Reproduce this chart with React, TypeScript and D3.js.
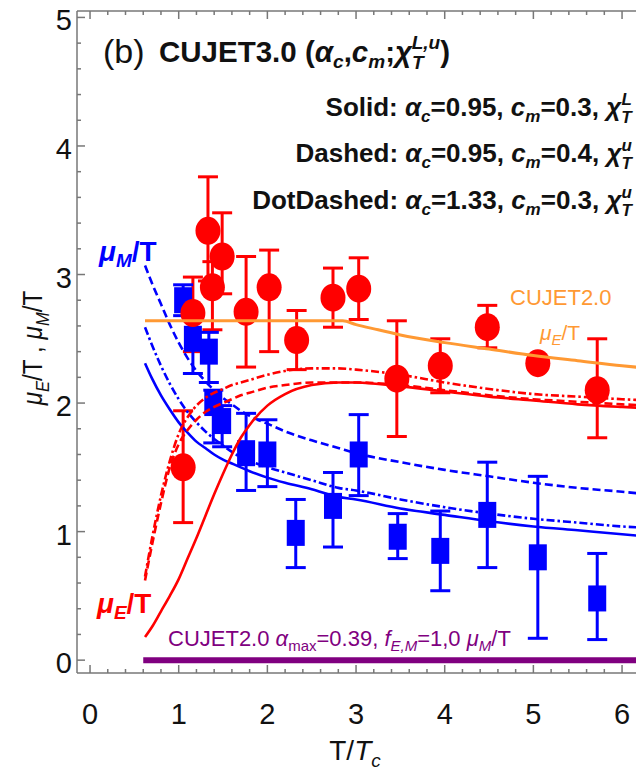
import React from 'react';
import * as d3 from 'd3';

// ---------- data ----------
const redT = [1.05, 1.16, 1.33, 1.38, 1.49, 1.76, 2.02, 2.33, 2.74, 3.03, 3.46, 3.95, 4.48, 5.05, 5.72];
const redV = [1.50, 2.70, 3.34, 2.90, 3.14, 2.71, 2.90, 2.49, 2.82, 2.89, 2.19, 2.29, 2.59, 2.31, 2.10];
const redLo = [1.07, 2.40, 2.95, 2.57, 2.85, 2.28, 2.40, 2.26, 2.59, 2.65, 1.74, 2.08, 2.43, 2.26, 1.73];
const redHi = [1.94, 2.98, 3.76, 3.10, 3.48, 3.14, 3.19, 2.72, 3.05, 3.13, 2.64, 2.50, 2.76, 2.36, 2.50];

const blueT = [1.05, 1.16, 1.34, 1.39, 1.49, 1.76, 2.00, 2.32, 2.74, 3.03, 3.47, 3.95, 4.48, 5.05, 5.72];
const blueV = [2.80, 2.50, 2.40, 2.00, 1.86, 1.61, 1.60, 0.99, 1.20, 1.60, 0.96, 0.85, 1.13, 0.80, 0.48];
const blueLo = [2.68, 2.23, 2.16, 1.69, 1.66, 1.32, 1.35, 0.72, 0.88, 1.28, 0.79, 0.54, 0.72, 0.17, 0.16];
const blueHi = [2.92, 2.65, 2.55, 2.10, 1.98, 1.92, 1.87, 1.25, 1.46, 1.91, 1.14, 1.16, 1.54, 1.43, 0.83];

const gridT = [0.62, 0.7, 0.8, 0.9, 1.0, 1.1, 1.2, 1.3, 1.4, 1.5, 1.6, 1.7, 1.8, 2.0, 2.2, 2.5, 2.8, 3.0, 3.5, 4.0, 4.5, 5.0, 5.5, 6.0, 6.3];
const redSolid = [0.18, 0.26, 0.38, 0.50, 0.63, 0.79, 0.95, 1.12, 1.29, 1.45, 1.60, 1.73, 1.83, 1.98, 2.07, 2.14, 2.16, 2.16, 2.13, 2.09, 2.05, 2.02, 1.99, 1.97, 1.96];
const redDashed = [0.62, 0.90, 1.22, 1.50, 1.68, 1.79, 1.87, 1.93, 1.97, 2.00, 2.03, 2.06, 2.08, 2.12, 2.14, 2.16, 2.16, 2.16, 2.14, 2.10, 2.06, 2.03, 2.01, 1.99, 1.98];
const redDotDashed = [0.65, 0.95, 1.28, 1.55, 1.76, 1.89, 1.98, 2.04, 2.08, 2.11, 2.14, 2.16, 2.18, 2.22, 2.25, 2.27, 2.27, 2.26, 2.22, 2.16, 2.11, 2.07, 2.05, 2.03, 2.02];
const blueSolid = [2.31, 2.19, 2.06, 1.95, 1.85, 1.77, 1.70, 1.65, 1.60, 1.56, 1.53, 1.50, 1.47, 1.42, 1.38, 1.33, 1.27, 1.25, 1.18, 1.13, 1.08, 1.04, 1.01, 0.98, 0.96];
const blueDashed = [3.07, 2.93, 2.77, 2.61, 2.47, 2.35, 2.25, 2.17, 2.10, 2.04, 1.99, 1.94, 1.90, 1.84, 1.78, 1.71, 1.65, 1.61, 1.54, 1.48, 1.43, 1.38, 1.34, 1.31, 1.29];
const blueDotDashed = [2.59, 2.45, 2.29, 2.15, 2.03, 1.93, 1.85, 1.78, 1.72, 1.67, 1.62, 1.58, 1.55, 1.50, 1.46, 1.40, 1.34, 1.32, 1.25, 1.19, 1.14, 1.10, 1.07, 1.04, 1.03];

const orangeT = [0.62, 2.85, 3.0, 3.25, 3.5, 4.0, 4.5, 5.0, 5.5, 6.0, 6.3];
const orangeV = [2.64, 2.64, 2.61, 2.57, 2.53, 2.47, 2.42, 2.37, 2.33, 2.29, 2.27];
const purpleT = [0.6, 6.3];
const purpleV = [0, 0];

const xTicks = [0, 1, 2, 3, 4, 5, 6];
const yTicks = [0, 1, 2, 3, 4, 5];

// ---------- layout ----------
const W = 636, H = 775;
const X0 = -0.147, X1 = 6.5;
const x = d3.scaleLinear().domain([X0, X1]).range([77, 77 + (X1 - X0) * 88.67]);
const y = d3.scaleLinear().domain([-0.1, 5.05]).range([673, 11]);

const RED = '#ff0000', BLUE = '#0000ff', ORANGE = '#ff9933', PURPLE = '#800080', AX = '#777777';
const FONT = '"Liberation Sans", Arial, sans-serif';

const line = d3.line<[number, number]>().x(d => x(d[0])).y(d => y(d[1])).curve(d3.curveMonotoneX);
const mk = (ts: number[], vs: number[]) => line(ts.map((t, i) => [t, vs[i]] as [number, number])) || '';

const DASH = '8,4';
const DOTDASH = '8,3,2.5,3';

export default function App() {
  const minorX = d3.range(0, 65).map(i => i * 0.2).filter(v => v <= X1 && Math.abs(v - Math.round(v)) > 1e-6);
  const minorY = d3.range(0, 26).map(i => i * 0.2).filter(v => v <= 5.05 && Math.abs(v - Math.round(v)) > 1e-6);
  const xr = x.range()[1];
  return (
    <svg width={W} height={H} style={{ position: 'absolute', left: 0, top: 0, background: '#fff' }} fontFamily={FONT}>
      <rect x={0} y={0} width={W} height={H} fill="#fff" />
      {/* frame */}
      <g stroke={AX} strokeWidth={1.5} fill="none">
        <line x1={77} x2={xr} y1={673} y2={673} />
        <line x1={77} x2={xr} y1={11} y2={11} />
        <line x1={77} x2={77} y1={11} y2={673} />
        {xTicks.map(t => (
          <g key={'xt' + t}>
            <line x1={x(t)} x2={x(t)} y1={673} y2={665} />
            <line x1={x(t)} x2={x(t)} y1={11} y2={19} />
          </g>
        ))}
        {minorX.map((t, i) => (
          <g key={'xm' + i}>
            <line x1={x(t)} x2={x(t)} y1={673} y2={669} />
            <line x1={x(t)} x2={x(t)} y1={11} y2={15} />
          </g>
        ))}
        {yTicks.map(t => <line key={'yt' + t} x1={77} x2={85} y1={y(t)} y2={y(t)} />)}
        {minorY.map((t, i) => <line key={'ym' + i} x1={77} x2={81} y1={y(t)} y2={y(t)} />)}
      </g>
      {/* tick labels */}
      <g fontSize={29} fill="#111">
        {xTicks.map(t => <text key={'xl' + t} x={x(t)} y={724} textAnchor="middle">{t}</text>)}
        {yTicks.map(t => <text key={'yl' + t} x={72} y={y(t) + 13} textAnchor="end">{t}</text>)}
      </g>
      {/* axis labels */}
      <text x={355} y={760} fontSize={28} textAnchor="middle" fill="#111">
        T/<tspan fontStyle="italic">T</tspan><tspan fontStyle="italic" fontSize={19} dy={7}>c</tspan>
      </text>
      <text transform="translate(42,348) rotate(-90) scale(0.87,1)" fontSize={28} textAnchor="middle" fill="#111">
        <tspan fontStyle="italic">μ</tspan><tspan fontStyle="italic" fontSize={19} dy={7}>E</tspan><tspan dy={-7}>/T , </tspan>
        <tspan fontStyle="italic">μ</tspan><tspan fontStyle="italic" fontSize={19} dy={7}>M</tspan><tspan dy={-7}>/T</tspan>
      </text>

      {/* data: error bars + markers */}
      <g stroke={RED} strokeWidth={3}>
        {redT.map((t, i) => (
          <g key={'re' + i}>
            <line x1={x(t)} x2={x(t)} y1={y(redLo[i])} y2={y(redHi[i])} />
            <line x1={x(t) - 10} x2={x(t) + 10} y1={y(redLo[i])} y2={y(redLo[i])} />
            <line x1={x(t) - 10} x2={x(t) + 10} y1={y(redHi[i])} y2={y(redHi[i])} />
          </g>
        ))}
      </g>
      <g stroke={BLUE} strokeWidth={3}>
        {blueT.map((t, i) => (
          <g key={'be' + i}>
            <line x1={x(t)} x2={x(t)} y1={y(blueLo[i])} y2={y(blueHi[i])} />
            <line x1={x(t) - 10} x2={x(t) + 10} y1={y(blueLo[i])} y2={y(blueLo[i])} />
            <line x1={x(t) - 10} x2={x(t) + 10} y1={y(blueHi[i])} y2={y(blueHi[i])} />
          </g>
        ))}
      </g>
      {blueT.map((t, i) => <rect key={'bs' + i} x={x(t) - 9} y={y(blueV[i]) - 13} width={18} height={26} fill={BLUE} />)}
      {redT.map((t, i) => <ellipse key={'rc' + i} cx={x(t)} cy={y(redV[i])} rx={12.5} ry={14} fill={RED} />)}

      {/* curves */}
      <g fill="none" strokeWidth={2.6}>
        <path d={mk(gridT, blueSolid)} stroke={BLUE} />
        <path d={mk(gridT, blueDashed)} stroke={BLUE} strokeDasharray={DASH} />
        <path d={mk(gridT, blueDotDashed)} stroke={BLUE} strokeDasharray={DOTDASH} />
        <path d={mk(gridT, redSolid)} stroke={RED} />
        <path d={mk(gridT, redDashed)} stroke={RED} strokeDasharray={DASH} />
        <path d={mk(gridT, redDotDashed)} stroke={RED} strokeDasharray={DOTDASH} />
        <path d={mk(orangeT, orangeV)} stroke={ORANGE} strokeWidth={3} />
        <path d={mk(purpleT, purpleV)} stroke={PURPLE} strokeWidth={6} />
      </g>

      {/* title */}
      <text x={103} y={63} fontSize={34} fill="#111">(b)</text>
      <text x={159} y={62} fontSize={29.5} fontWeight="bold" fill="#111">
        CUJET3.0 (<tspan fontStyle="italic">α</tspan><tspan fontStyle="italic" fontSize={19} dy={6}>c</tspan><tspan dy={-6}>,</tspan><tspan fontStyle="italic">c</tspan><tspan fontStyle="italic" fontSize={19} dy={6}>m</tspan><tspan dy={-6}>;</tspan><tspan fontStyle="italic">χ</tspan><tspan fontStyle="italic" fontSize={19} dy={7}>T</tspan><tspan fontStyle="italic" fontSize={19} dx={-12} dy={-20}>L,u</tspan><tspan dy={13}>)</tspan>
      </text>

      {/* legend lines */}
      <g fontSize={26} fontWeight="bold" fill="#111" textAnchor="end">
        <text x={632} y={116}>
          Solid: <tspan fontStyle="italic">α</tspan><tspan fontStyle="italic" fontSize={17} dy={6}>c</tspan><tspan dy={-6}>=0.95, </tspan><tspan fontStyle="italic">c</tspan><tspan fontStyle="italic" fontSize={17} dy={6}>m</tspan><tspan dy={-6}>=0.3, </tspan><tspan fontStyle="italic">χ</tspan><tspan fontStyle="italic" fontSize={17} dy={7}>T</tspan><tspan fontStyle="italic" fontSize={17} dx={-10} dy={-18}>L</tspan>
        </text>
        <text x={632} y={162}>
          Dashed: <tspan fontStyle="italic">α</tspan><tspan fontStyle="italic" fontSize={17} dy={6}>c</tspan><tspan dy={-6}>=0.95, </tspan><tspan fontStyle="italic">c</tspan><tspan fontStyle="italic" fontSize={17} dy={6}>m</tspan><tspan dy={-6}>=0.4, </tspan><tspan fontStyle="italic">χ</tspan><tspan fontStyle="italic" fontSize={17} dy={7}>T</tspan><tspan fontStyle="italic" fontSize={17} dx={-10} dy={-18}>u</tspan>
        </text>
        <text x={632} y={209}>
          DotDashed: <tspan fontStyle="italic">α</tspan><tspan fontStyle="italic" fontSize={17} dy={6}>c</tspan><tspan dy={-6}>=1.33, </tspan><tspan fontStyle="italic">c</tspan><tspan fontStyle="italic" fontSize={17} dy={6}>m</tspan><tspan dy={-6}>=0.3, </tspan><tspan fontStyle="italic">χ</tspan><tspan fontStyle="italic" fontSize={17} dy={7}>T</tspan><tspan fontStyle="italic" fontSize={17} dx={-10} dy={-18}>u</tspan>
        </text>
      </g>

      {/* curve labels */}
      <text x={99} y={261} fontSize={28} fontWeight="bold" fill={BLUE}>
        <tspan fontStyle="italic">μ</tspan><tspan fontStyle="italic" fontSize={19} dy={6}>M</tspan><tspan dy={-6}>/T</tspan>
      </text>
      <text x={97} y={613} fontSize={28} fontWeight="bold" fill={RED}>
        <tspan fontStyle="italic">μ</tspan><tspan fontStyle="italic" fontSize={19} dy={6}>E</tspan><tspan dy={-6}>/T</tspan>
      </text>
      <text x={510} y={305} fontSize={22} fill={ORANGE}>CUJET2.0</text>
      <text x={540} y={340} fontSize={21} fill={ORANGE}>
        <tspan fontStyle="italic">μ</tspan><tspan fontStyle="italic" fontSize={15} dy={5}>E</tspan><tspan dy={-5}>/T</tspan>
      </text>
      <text x={168} y={646} fontSize={22} fill={PURPLE}>
        CUJET2.0 <tspan fontStyle="italic">α</tspan><tspan fontSize={15} dy={5}>max</tspan><tspan dy={-5}>=0.39, </tspan><tspan fontStyle="italic">f</tspan><tspan fontStyle="italic" fontSize={15} dy={5}>E,M</tspan><tspan dy={-5}>=1,0 </tspan><tspan fontStyle="italic">μ</tspan><tspan fontStyle="italic" fontSize={15} dy={5}>M</tspan><tspan dy={-5}>/T</tspan>
      </text>
    </svg>
  );
}
